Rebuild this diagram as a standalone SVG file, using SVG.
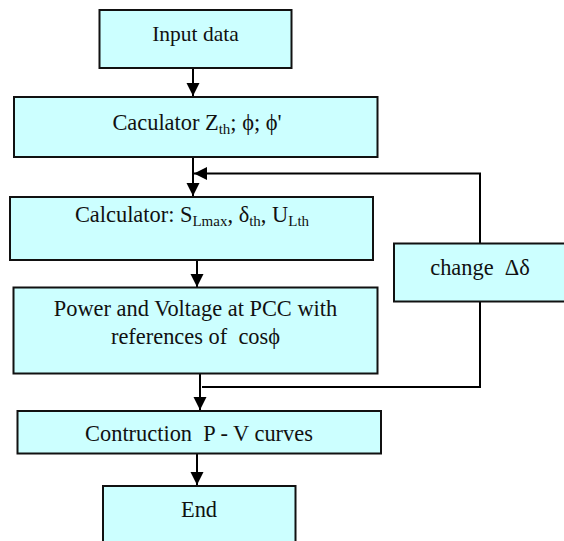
<svg xmlns="http://www.w3.org/2000/svg" width="564" height="541" viewBox="0 0 564 541">
<style>
.box{fill:#CCFFFF;stroke:#111;stroke-width:2}
.ln{fill:none;stroke:#000;stroke-width:2}
text,tspan{font-family:"Liberation Serif","Times New Roman",serif;fill:#111}
</style>
<defs>
<marker id="ah" markerUnits="userSpaceOnUse" markerWidth="14" markerHeight="14" refX="13" refY="6.5" orient="auto">
<path d="M0,0 L13,6.5 L0,13 z" fill="#000"/>
</marker>
</defs>
<g id="connectors">
<line class="ln" x1="193" y1="68" x2="193" y2="96" marker-end="url(#ah)"/>
<line class="ln" x1="193" y1="157" x2="193" y2="196" marker-end="url(#ah)"/>
<polyline class="ln" points="480,243 480,173.5 194,173.5" marker-end="url(#ah)"/>
<line class="ln" x1="197" y1="260" x2="197" y2="287" marker-end="url(#ah)"/>
<line class="ln" x1="200" y1="373" x2="200" y2="410" marker-end="url(#ah)"/>
<polyline class="ln" points="480,302 480,387 202,387"/>
<line class="ln" x1="197" y1="453" x2="197" y2="485" marker-end="url(#ah)"/>
</g>
<g font-size="22.4" text-anchor="middle">
<g id="input">
<rect class="box" x="99.5" y="10" width="192" height="58"/>
<text x="195.5" y="41" font-size="21.5">Input data</text>
</g>
<g id="calc-zth">
<rect class="box" x="14" y="97" width="363.5" height="60"/>
<text x="197" y="129.5">Caculator Z<tspan font-size="15" dy="4">th</tspan><tspan dy="-4">; ϕ; ϕ'</tspan></text>
</g>
<g id="calc-slmax">
<rect class="box" x="10" y="197" width="363" height="63"/>
<text x="192" y="222">Calculator: S<tspan font-size="15" dy="4">Lmax</tspan><tspan dy="-4">, δ</tspan><tspan font-size="15" dy="4">th</tspan><tspan dy="-4">, U</tspan><tspan font-size="15" dy="4">Lth</tspan></text>
</g>
<g id="change">
<rect class="box" x="394" y="243.5" width="173" height="58"/>
<text x="480" y="275" xml:space="preserve">change  Δδ</text>
</g>
<g id="power">
<rect class="box" x="13.5" y="287.5" width="364" height="86"/>
<text x="195.5" y="316">Power and Voltage at PCC with</text>
<text x="195.5" y="344" xml:space="preserve">references of  cosϕ</text>
</g>
<g id="construction">
<rect class="box" x="17.5" y="411" width="363.5" height="42.5"/>
<text x="199" y="441" xml:space="preserve">Contruction  P - V curves</text>
</g>
<g id="end">
<rect class="box" x="103" y="486" width="192.5" height="60"/>
<text x="199" y="517">End</text>
</g>
</g>
</svg>
